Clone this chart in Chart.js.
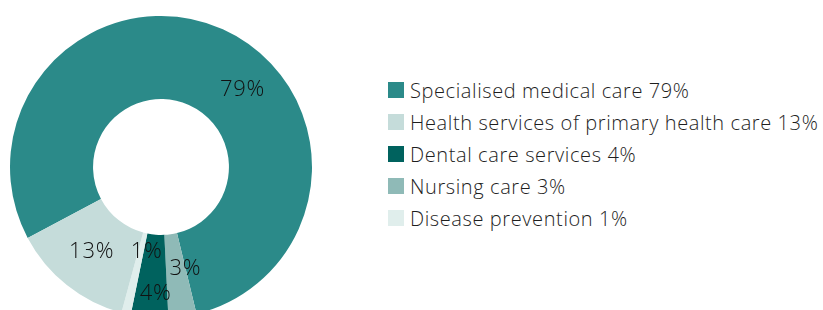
<!DOCTYPE html>
<html>
<head>
<meta charset="utf-8">
<script src="https://cdn.jsdelivr.net/npm/chart.js@4/dist/chart.umd.min.js"></script>
<style>
  html, body { margin: 0; padding: 0; background: #fff; width: 823px; height: 310px; overflow: hidden; }
  #wrap { position: absolute; left: 0; top: 0; width: 322px; height: 328px; }
  #legend { position: absolute; left: 388px; top: 74px; font-family: "Open Sans", sans-serif; font-weight: 300; font-size: 20px; letter-spacing: 0.6px; color: #1e1e1e; }
  .row { display: flex; align-items: center; height: 32px; white-space: nowrap; }
  .box { width: 16px; height: 16px; margin-right: 6px; flex: none; }
</style>
</head>
<body>
<div id="wrap"><canvas id="c" width="322" height="328"></canvas></div>
<div id="legend"></div>
<script>
// Drawing order (clockwise)
const categories = ["Specialised medical care", "Nursing care", "Dental care services", "Disease prevention", "Health services of primary health care"];
const values = [79, 3, 4, 1, 13];
const colors = ["#2b8a89", "#8fbab7", "#00625e", "#e0eeec", "#c5dcda"];
// Legend order
const legendOrder = ["Specialised medical care", "Health services of primary health care", "Dental care services", "Nursing care", "Disease prevention"];

// label placement tweaks (radius fraction across ring, angle shift in degrees)
const labelPlacement = [
  { r: 0.52, a: 23 },
  { r: 0.47, a: -5 },
  { r: 0.73, a: -2 },
  { r: 0.24, a: -4 },
  { r: 0.52, a: 0 }
];

const labelPlugin = {
  id: 'pctLabels',
  afterDatasetsDraw(chart) {
    const ctx = chart.ctx;
    const meta = chart.getDatasetMeta(0);
    ctx.save();
    ctx.font = '300 22px "Open Sans", sans-serif';
    ctx.fillStyle = '#111';
    ctx.textAlign = 'center';
    ctx.textBaseline = 'middle';
    if ('letterSpacing' in ctx) ctx.letterSpacing = '0.8px';
    meta.data.forEach((arc, i) => {
      const p = arc.getProps(['x','y','startAngle','endAngle','innerRadius','outerRadius'], true);
      const pl = labelPlacement[i];
      const mid = (p.startAngle + p.endAngle) / 2 + pl.a * Math.PI / 180;
      const r = p.innerRadius + (p.outerRadius - p.innerRadius) * pl.r;
      ctx.fillText(values[i] + '%', p.x + Math.cos(mid) * r, p.y + Math.sin(mid) * r - 2);
    });
    ctx.restore();
  }
};

new Chart(document.getElementById('c'), {
  type: 'doughnut',
  data: {
    labels: categories,
    datasets: [{ data: values, backgroundColor: colors, borderWidth: 0 }]
  },
  options: {
    responsive: false,
    animation: false,
    rotation: 242,
    cutout: '45%',
    layout: { padding: { left: 10, right: 10, top: 13, bottom: 7 } },
    plugins: { legend: { display: false }, tooltip: { enabled: false } }
  },
  plugins: [labelPlugin]
});

const legend = document.getElementById('legend');
legendOrder.forEach(name => {
  const i = categories.indexOf(name);
  const row = document.createElement('div');
  row.className = 'row';
  const box = document.createElement('span');
  box.className = 'box';
  box.style.background = colors[i];
  const t = document.createElement('span');
  t.textContent = name + ' ' + values[i] + '%';
  row.appendChild(box);
  row.appendChild(t);
  legend.appendChild(row);
});
</script>
</body>
</html>
